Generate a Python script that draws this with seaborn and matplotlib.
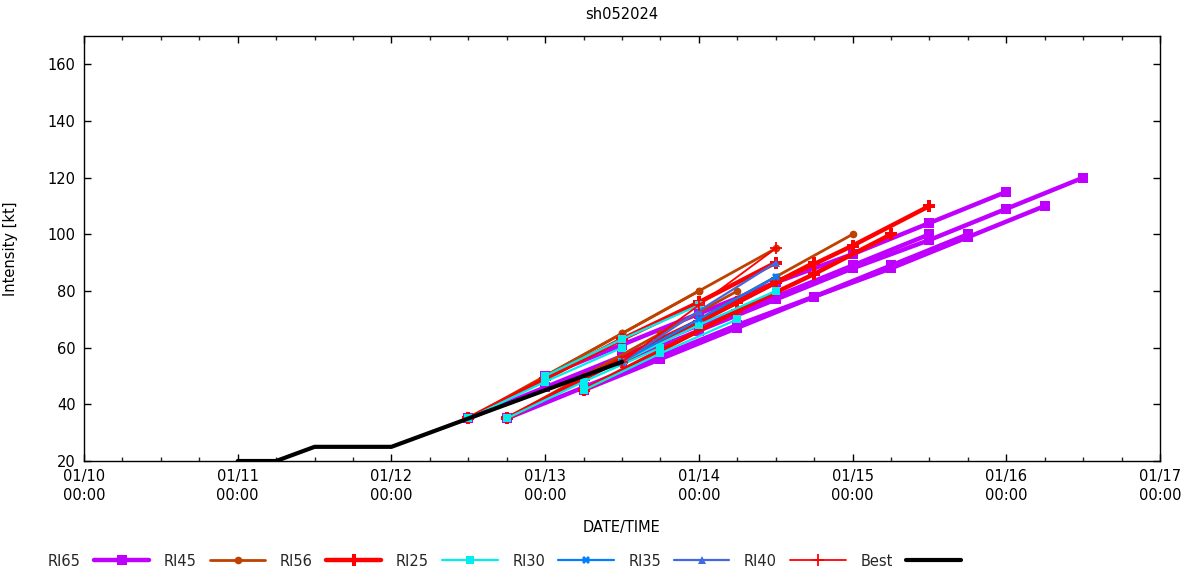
import matplotlib
matplotlib.use("Agg")
import matplotlib.pyplot as plt
import matplotlib.dates as mdates
from matplotlib.lines import Line2D
import pandas as pd
import seaborn as sns

# ---------------- data ----------------
# RI65 forecasts (12-hourly values from each init)
ri65_inits = ["2024-01-12 12:00", "2024-01-12 18:00", "2024-01-13 00:00",
              "2024-01-13 06:00", "2024-01-13 12:00"]
ri65_vals = [[35, 46, 57, 68, 78, 89, 100],
             [35, 46, 57, 68, 78, 89, 100],
             [50, 61, 72, 83, 93, 104, 115],
             [45, 56, 67, 78, 88, 99, 110],
             [55, 66, 77, 88, 98, 109, 120]]

ri45_inits = ["2024-01-12 12:00", "2024-01-12 18:00", "2024-01-13 00:00",
              "2024-01-13 12:00"]
ri45_vals = [[35, 50, 65, 80],
             [35, 50, 65, 80],
             [50, 65, 80, 95],
             [55, 70, 85, 100]]

ri56_inits = ["2024-01-12 12:00", "2024-01-12 18:00", "2024-01-13 06:00",
              "2024-01-13 12:00"]
ri56_vals = [[35, 49, 63, 76, 90],
             [35, 49, 63, 76, 90],
             [45, 59, 73, 86, 100],
             [55, 69, 83, 96, 110]]

ri25_inits = ["2024-01-12 12:00", "2024-01-12 18:00", "2024-01-13 00:00",
              "2024-01-13 06:00", "2024-01-13 12:00"]
ri25_vals = [[35, 48, 60],
             [35, 48, 60],
             [50, 63, 75],
             [45, 58, 70],
             [55, 68, 80]]

ri30_inits = ["2024-01-13 12:00"]
ri30_vals = [[55, 70, 85]]

ri35_inits = ["2024-01-13 12:00"]
ri35_vals = [[55, 73, 90]]

ri40_inits = ["2024-01-13 12:00"]
ri40_vals = [[55, 75, 95]]

best_times = ["2024-01-11 00:00", "2024-01-11 06:00", "2024-01-11 12:00",
              "2024-01-11 18:00", "2024-01-12 00:00", "2024-01-12 06:00",
              "2024-01-12 12:00", "2024-01-12 18:00", "2024-01-13 00:00",
              "2024-01-13 06:00", "2024-01-13 12:00"]
best_vals = [20, 20, 25, 25, 25, 30, 35, 40, 45, 50, 55]

x_ticks = ["2024-01-10", "2024-01-11", "2024-01-12", "2024-01-13",
           "2024-01-14", "2024-01-15", "2024-01-16", "2024-01-17"]
y_ticks = [20, 40, 60, 80, 100, 120, 140, 160]

# ---------------- styles ----------------
styles = {
    "RI65": dict(color="#c000ff", lw=3.2, marker="s", ms=7, mew=0),
    "RI45": dict(color="#c04000", lw=2.0, marker="o", ms=5.5, mew=0),
    "RI56": dict(color="#ff0000", lw=3.2, marker="P", ms=8, mew=0),
    "RI25": dict(color="#00eeee", lw=1.6, marker="s", ms=6, mew=0),
    "RI30": dict(color="#0080ff", lw=1.6, marker="X", ms=6, mew=0),
    "RI35": dict(color="#4169e1", lw=1.6, marker="^", ms=6, mew=0),
    "RI40": dict(color="#ff0000", lw=1.3, marker="+", ms=8, mew=1.3),
    "Best": dict(color="#000000", lw=3.0, marker=None, ms=0, mew=0),
}

groups = [("RI65", ri65_inits, ri65_vals), ("RI45", ri45_inits, ri45_vals),
          ("RI56", ri56_inits, ri56_vals), ("RI25", ri25_inits, ri25_vals),
          ("RI30", ri30_inits, ri30_vals), ("RI35", ri35_inits, ri35_vals),
          ("RI40", ri40_inits, ri40_vals)]

sns.set_theme(style="ticks")
plt.rcParams["font.family"] = ["DejaVu Sans"]
plt.rcParams["font.size"] = 10.5

fig = plt.figure(figsize=(11.82, 5.67), dpi=100)
ax = fig.add_axes([84/1182, 1-461/567, (1160-84)/1182, (461-36)/567])

for name, inits, vals in groups:
    st = styles[name]
    for it, v in zip(inits, vals):
        t = pd.date_range(pd.Timestamp(it), periods=len(v), freq="12h")
        df = pd.DataFrame({"time": t, "vmax": v})
        sns.lineplot(data=df, x="time", y="vmax", ax=ax, color=st["color"],
                     lw=st["lw"], marker=st["marker"], markersize=st["ms"],
                     markeredgewidth=st["mew"], markeredgecolor=st["color"],
                     legend=False, estimator=None, sort=False)

bdf = pd.DataFrame({"time": pd.to_datetime(best_times), "vmax": best_vals})
sns.lineplot(data=bdf, x="time", y="vmax", ax=ax, color="black",
             lw=styles["Best"]["lw"], legend=False, estimator=None, sort=False)

ax.set_xlim(pd.Timestamp(x_ticks[0]), pd.Timestamp(x_ticks[-1]))
ax.set_ylim(20, 170)
ax.set_yticks(y_ticks)
ax.xaxis.set_major_locator(mdates.DayLocator())
ax.xaxis.set_major_formatter(mdates.DateFormatter("%m/%d\n%H:%M"))
ax.xaxis.set_minor_locator(mdates.HourLocator(byhour=[6, 12, 18]))
ax.tick_params(axis="both", which="major", direction="in", length=5,
               width=1, top=True, right=True, labelsize=10.5, colors="black",
               pad=6)
ax.tick_params(axis="x", which="minor", direction="in", length=3, width=1,
               top=True)
for lab in ax.get_xticklabels():
    lab.set_horizontalalignment("center")
    lab.set_linespacing(1.3)
for sp in ax.spines.values():
    sp.set_color("black")
    sp.set_linewidth(1)
ax.grid(False)
ax.set_xlabel("DATE/TIME", fontsize=10.5, labelpad=12, color="black")
ax.set_ylabel("Intensity [kt]", fontsize=10.5, labelpad=21, color="black")
ax.set_title("sh052024", fontsize=10.5, pad=12, color="black")

handles = []
for name in ["RI65", "RI45", "RI56", "RI25", "RI30", "RI35", "RI40", "Best"]:
    st = styles[name]
    handles.append(Line2D([], [], color=st["color"], lw=st["lw"],
                          marker=st["marker"], markersize=st["ms"],
                          markeredgewidth=st["mew"],
                          markeredgecolor=st["color"], label=name))
fig.legend(handles=handles, loc="center left",
           bbox_to_anchor=(48/1182, 1-561/567), ncol=8, frameon=False,
           markerfirst=False, handlelength=3.8, handletextpad=0.9,
           columnspacing=1.0, borderpad=0, borderaxespad=0, fontsize=10.5)

fig.savefig("out.png", dpi=100)
